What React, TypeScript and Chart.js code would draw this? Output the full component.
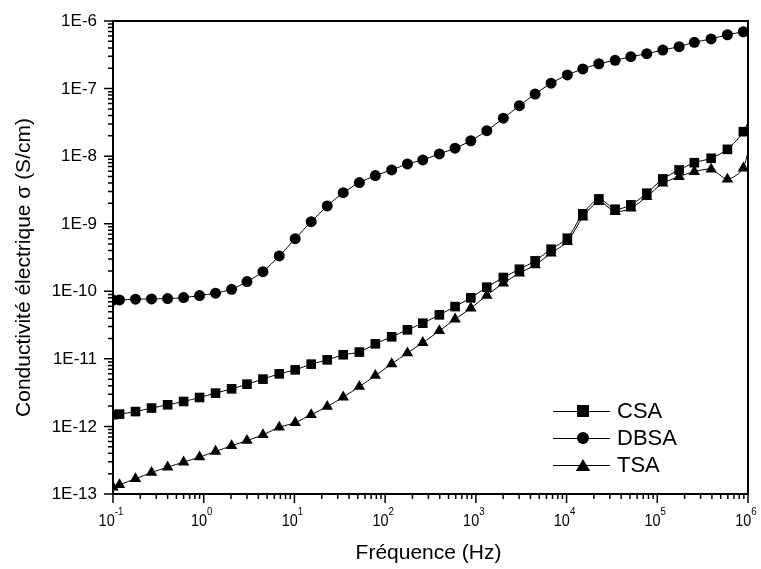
import React, { useEffect, useRef } from 'react';
import { Chart, registerables } from 'chart.js';

Chart.register(...registerables);

// Frequencies (Hz)
const frequencies = [
  0.1, 0.118, 0.177, 0.266, 0.4, 0.6, 0.9,
  1.35, 2.03, 3.0, 4.5, 6.8,
  10.2, 15.3, 23, 34.5, 52, 78,
  118, 176, 260, 396, 590, 880,
  1320, 2010, 3020, 4500, 6750,
  10200, 15100, 22700, 34300, 51100, 76600,
  115000, 174000, 256000, 392000, 593000, 889000,
  1330000,
];

const csa = [
  1.49e-12, 1.52e-12, 1.66e-12, 1.87e-12, 2.09e-12, 2.34e-12, 2.68e-12,
  3.11e-12, 3.6e-12, 4.22e-12, 5.01e-12, 6.0e-12,
  6.87e-12, 8.35e-12, 9.66e-12, 1.15e-11, 1.26e-11, 1.67e-11,
  2.12e-11, 2.69e-11, 3.37e-11, 4.48e-11, 5.94e-11, 8.0e-11,
  1.15e-10, 1.6e-10, 2.12e-10, 2.82e-10, 4.2e-10,
  6.1e-10, 1.4e-9, 2.33e-9, 1.64e-9, 1.9e-9, 2.83e-9,
  4.6e-9, 6.25e-9, 8.0e-9, 9.3e-9, 1.26e-8, 2.3e-8,
  7.9e-8,
];

const dbsa = [
  7.4e-11, 7.46e-11, 7.64e-11, 7.72e-11, 7.8e-11, 8.07e-11, 8.64e-11,
  9.37e-11, 1.07e-10, 1.39e-10, 1.95e-10, 3.34e-10,
  6.0e-10, 1.07e-9, 1.83e-9, 2.88e-9, 4.06e-9, 5.15e-9,
  6.25e-9, 7.67e-9, 8.8e-9, 1.08e-8, 1.31e-8, 1.69e-8,
  2.38e-8, 3.64e-8, 5.59e-8, 8.3e-8, 1.2e-7,
  1.59e-7, 1.95e-7, 2.33e-7, 2.62e-7, 2.96e-7, 3.28e-7,
  3.72e-7, 4.17e-7, 4.84e-7, 5.42e-7, 6.26e-7, 6.93e-7,
  7.67e-7,
];

const tsa = [
  1.26e-13, 1.37e-13, 1.68e-13, 2.08e-13, 2.5e-13, 2.96e-13, 3.52e-13,
  4.26e-13, 5.17e-13, 6.18e-13, 7.52e-13, 9.7e-13,
  1.14e-12, 1.49e-12, 1.97e-12, 2.71e-12, 3.89e-12, 5.66e-12,
  8.43e-12, 1.22e-11, 1.74e-11, 2.6e-11, 3.86e-11, 5.62e-11,
  8.7e-11, 1.32e-10, 1.85e-10, 2.46e-10, 3.66e-10,
  5.43e-10, 1.25e-9, 2.12e-9, 1.51e-9, 1.69e-9, 2.52e-9,
  3.97e-9, 4.98e-9, 5.9e-9, 6.4e-9, 4.55e-9, 6.63e-9,
  7.9e-8,
];

const seriesNames = ['CSA', 'DBSA', 'TSA'];
const seriesMarkers = ['rect', 'circle', 'triangle'];

const xTickExponents = [-1, 0, 1, 2, 3, 4, 5, 6];
const yTickValues = [1e-13, 1e-12, 1e-11, 1e-10, 1e-9, 1e-8, 1e-7, 1e-6];
const yTickLabels = ['1E-13', '1E-12', '1E-11', '1E-10', '1E-9', '1E-8', '1E-7', '1E-6'];
const minorMultipliers = [2, 3, 4, 5, 6, 7, 8, 9];

const xTitle = 'Fréquence (Hz)';
const yTitle = 'Conductivité électrique σ (S/cm)';

const FONT = '"Liberation Sans", Arial, "Helvetica Neue", sans-serif';

function drawMarker(ctx: CanvasRenderingContext2D, style: string, x: number, y: number, s: number) {
  ctx.beginPath();
  if (style === 'rect') {
    ctx.rect(x - s / 2, y - s / 2, s, s);
  } else if (style === 'circle') {
    ctx.arc(x, y, s / 2, 0, Math.PI * 2);
  } else {
    const w = s * 1.2;
    const h = s;
    ctx.moveTo(x, y - h / 2);
    ctx.lineTo(x + w / 2, y + h / 2);
    ctx.lineTo(x - w / 2, y + h / 2);
    ctx.closePath();
  }
  ctx.fill();
}

const originPlugin = {
  id: 'originAxes',
  afterDraw(chart: any) {
    const { ctx, chartArea } = chart;
    const { left, right, top, bottom } = chartArea;
    const xs = chart.scales.x;
    const ys = chart.scales.y;
    ctx.save();
    ctx.strokeStyle = '#000';
    ctx.fillStyle = '#000';

    // tick marks
    ctx.lineWidth = 1.5;
    ctx.beginPath();
    for (const e of xTickExponents) {
      const base = Math.pow(10, e);
      const px = xs.getPixelForValue(base);
      ctx.moveTo(px, bottom);
      ctx.lineTo(px, bottom + 9);
      if (e < xTickExponents[xTickExponents.length - 1]) {
        for (const m of minorMultipliers) {
          const mx = xs.getPixelForValue(m * base);
          ctx.moveTo(mx, bottom);
          ctx.lineTo(mx, bottom + 5);
        }
      }
    }
    yTickValues.forEach((v, i) => {
      const py = ys.getPixelForValue(v);
      ctx.moveTo(left, py);
      ctx.lineTo(left - 9, py);
      if (i < yTickValues.length - 1) {
        for (const m of minorMultipliers) {
          const my = ys.getPixelForValue(m * v);
          ctx.moveTo(left, my);
          ctx.lineTo(left - 5, my);
        }
      }
    });
    ctx.stroke();

    // frame
    ctx.lineWidth = 2;
    ctx.strokeRect(left, top, right - left, bottom - top);

    // y tick labels
    ctx.font = `17px ${FONT}`;
    ctx.textAlign = 'right';
    ctx.textBaseline = 'middle';
    yTickValues.forEach((v, i) => {
      ctx.fillText(yTickLabels[i], left - 16, ys.getPixelForValue(v) + 0.5);
    });

    // x tick labels (10 with superscript exponent)
    const sx = 0.85;
    ctx.textAlign = 'left';
    ctx.textBaseline = 'alphabetic';
    for (const e of xTickExponents) {
      const px = xs.getPixelForValue(Math.pow(10, e));
      const baseText = '10';
      const supText = String(e);
      ctx.font = `17px ${FONT}`;
      const wb = ctx.measureText(baseText).width * sx;
      ctx.font = `11.5px ${FONT}`;
      const ws = ctx.measureText(supText).width * sx;
      const x0 = px - (wb + ws) / 2 - 2;
      ctx.save();
      ctx.translate(x0, bottom + 32);
      ctx.scale(sx, 1);
      ctx.font = `17px ${FONT}`;
      ctx.fillText(baseText, 0, 0);
      ctx.restore();
      ctx.save();
      ctx.translate(x0 + wb, bottom + 21);
      ctx.scale(sx, 1);
      ctx.font = `11.5px ${FONT}`;
      ctx.fillText(supText, 0, 0);
      ctx.restore();
    }

    // axis titles
    ctx.font = `21px ${FONT}`;
    ctx.textAlign = 'center';
    ctx.textBaseline = 'middle';
    ctx.fillText(xTitle, (left + right) / 2 - 2, bottom + 59);
    ctx.save();
    ctx.translate(24, (top + bottom) / 2 + 10);
    ctx.rotate(-Math.PI / 2);
    ctx.fillText(yTitle, 0, 0);
    ctx.restore();

    // legend
    const legendRows = [411, 438, 465];
    const lineX0 = 553;
    const lineX1 = 610;
    const markX = 583;
    ctx.font = `22px ${FONT}`;
    ctx.textAlign = 'left';
    ctx.textBaseline = 'middle';
    seriesNames.forEach((name, i) => {
      const y = legendRows[i];
      ctx.lineWidth = 1;
      ctx.beginPath();
      ctx.moveTo(lineX0, y + 0.5);
      ctx.lineTo(lineX1, y + 0.5);
      ctx.stroke();
      drawMarker(ctx, seriesMarkers[i], markX, y, 12);
      ctx.fillText(name, 617, y + 1);
    });

    ctx.restore();
  },
};

export default function App() {
  const ref = useRef<HTMLCanvasElement>(null);
  useEffect(() => {
    const canvas = ref.current;
    if (!canvas) return;
    const mk = (vals: number[]) => frequencies.map((f, i) => ({ x: f, y: vals[i] }));
    const common = {
      borderColor: '#000',
      borderWidth: 1,
      backgroundColor: '#000',
      pointBackgroundColor: '#000',
      pointBorderColor: '#000',
      pointBorderWidth: 0,
      tension: 0.25,
      fill: false,
    };
    const chart = new Chart(canvas, {
      type: 'line',
      data: {
        datasets: [
          { ...common, label: seriesNames[0], data: mk(csa), pointStyle: 'rect', pointRadius: 6.8 },
          { ...common, label: seriesNames[1], data: mk(dbsa), pointStyle: 'circle', pointRadius: 5.5 },
          { ...common, label: seriesNames[2], data: mk(tsa), pointStyle: 'triangle', pointRadius: 6.6 },
        ],
      },
      options: {
        responsive: false,
        animation: false,
        events: [],
        layout: { padding: { top: 21, right: 13, left: 0, bottom: 0 } },
        plugins: {
          legend: { display: false },
          tooltip: { enabled: false },
          title: { display: false },
        },
        scales: {
          x: {
            type: 'logarithmic',
            min: 0.1,
            max: 1e6,
            position: 'bottom',
            grid: { display: false },
            border: { display: false },
            ticks: { display: false },
            afterFit: (scale: any) => {
              scale.height = 75;
            },
          },
          y: {
            type: 'logarithmic',
            min: 1e-13,
            max: 1e-6,
            position: 'left',
            grid: { display: false },
            border: { display: false },
            ticks: { display: false },
            afterFit: (scale: any) => {
              scale.width = 113;
            },
          },
        },
      } as any,
      plugins: [originPlugin],
    });
    return () => chart.destroy();
  }, []);

  return (
    <div style={{ position: 'fixed', left: 0, top: 0, width: 761, height: 569, background: '#fff' }}>
      <canvas ref={ref} width={761} height={569} style={{ display: 'block' }} />
    </div>
  );
}
